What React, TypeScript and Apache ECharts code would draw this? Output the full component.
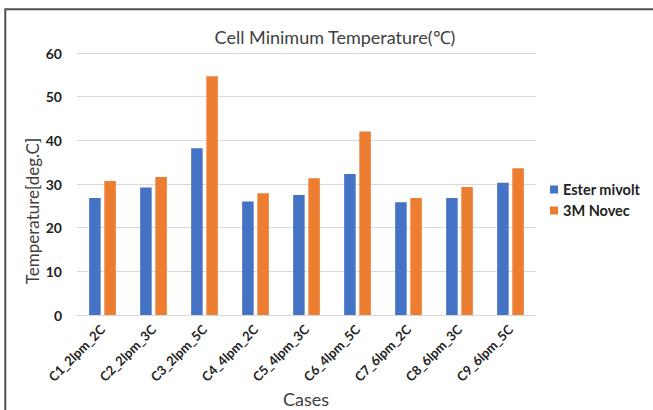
import React, { useEffect, useRef } from "react";
import * as echarts from "echarts";

const categories = [
  "C1_2lpm_2C",
  "C2_2lpm_3C",
  "C3_2lpm_5C",
  "C4_4lpm_2C",
  "C5_4lpm_3C",
  "C6_4lpm_5C",
  "C7_6lpm_2C",
  "C8_6lpm_3C",
  "C9_6lpm_5C",
];
const esterMivolt = [26.8, 29.2, 38.2, 26.0, 27.5, 32.3, 25.8, 26.8, 30.3];
const novec = [30.7, 31.6, 54.7, 27.9, 31.3, 42.0, 26.8, 29.3, 33.6];
const seriesNames = ["Ester mivolt", "3M Novec"];
const yTicks = { min: 0, max: 60, interval: 10 };

const FONT = "Lato, 'Open Sans', sans-serif";

export default function App() {
  const ref = useRef<HTMLDivElement>(null);
  useEffect(() => {
    document.body.style.margin = "0";
    const chart = echarts.init(ref.current!, undefined, { renderer: "svg" });
    chart.setOption({
      animation: false,
      backgroundColor: "#ffffff",
      title: {
        text: "Cell Minimum Temperature(℃)",
        left: 330,
        top: 23,
        textAlign: "center",
        textStyle: { fontFamily: FONT, fontSize: 18, fontWeight: "normal", color: "#404040" },
      },
      legend: {
        orient: "vertical",
        left: 545,
        top: 177,
        itemWidth: 8,
        itemHeight: 8,
        itemGap: 6,
        icon: "rect",
        textStyle: { fontFamily: FONT, fontSize: 14.5, fontWeight: "bold", color: "#222222" },
        data: seriesNames,
      },
      grid: { left: 77, right: 117, top: 53, bottom: 95, containLabel: false },
      xAxis: {
        type: "category",
        data: categories,
        axisLine: { lineStyle: { color: "#D9D9D9", width: 1 } },
        axisTick: { show: false },
        axisLabel: {
          rotate: 45,
          interval: 0,
          margin: 12,
          fontFamily: FONT,
          fontSize: 13,
          fontWeight: "bold",
          color: "#222222",
        },
      },
      yAxis: {
        type: "value",
        min: yTicks.min,
        max: yTicks.max,
        interval: yTicks.interval,
        axisLine: { show: false },
        axisTick: { show: false },
        splitLine: { lineStyle: { color: "#D9D9D9", width: 1 } },
        axisLabel: {
          margin: 15,
          fontFamily: FONT,
          fontSize: 14,
          fontWeight: "bold",
          color: "#222222",
        },
      },
      series: [
        {
          name: seriesNames[0],
          type: "bar",
          data: esterMivolt,
          barWidth: 11.5,
          barGap: "32%",
          itemStyle: { color: "#4472C4" },
        },
        {
          name: seriesNames[1],
          type: "bar",
          data: novec,
          barWidth: 11.5,
          itemStyle: { color: "#ED7D31" },
        },
      ],
      graphic: [
        {
          type: "rect",
          shape: { x: 5.3, y: 9.3, width: 700, height: 460 },
          style: { fill: "none", stroke: "#505050", lineWidth: 2 },
          silent: true,
        },
        {
          type: "text",
          x: 32,
          y: 211,
          rotation: Math.PI / 2,
          style: {
            text: "Temperature[deg.C]",
            font: `normal 17px ${FONT}`,
            fill: "#404040",
            align: "center",
            verticalAlign: "middle",
          },
        },
        {
          type: "text",
          x: 306,
          y: 399,
          style: {
            text: "Cases",
            font: `normal 18px ${FONT}`,
            fill: "#404040",
            align: "center",
            verticalAlign: "middle",
          },
        },
      ],
    });
    return () => chart.dispose();
  }, []);
  return <div ref={ref} style={{ width: 653, height: 410 }} />;
}
